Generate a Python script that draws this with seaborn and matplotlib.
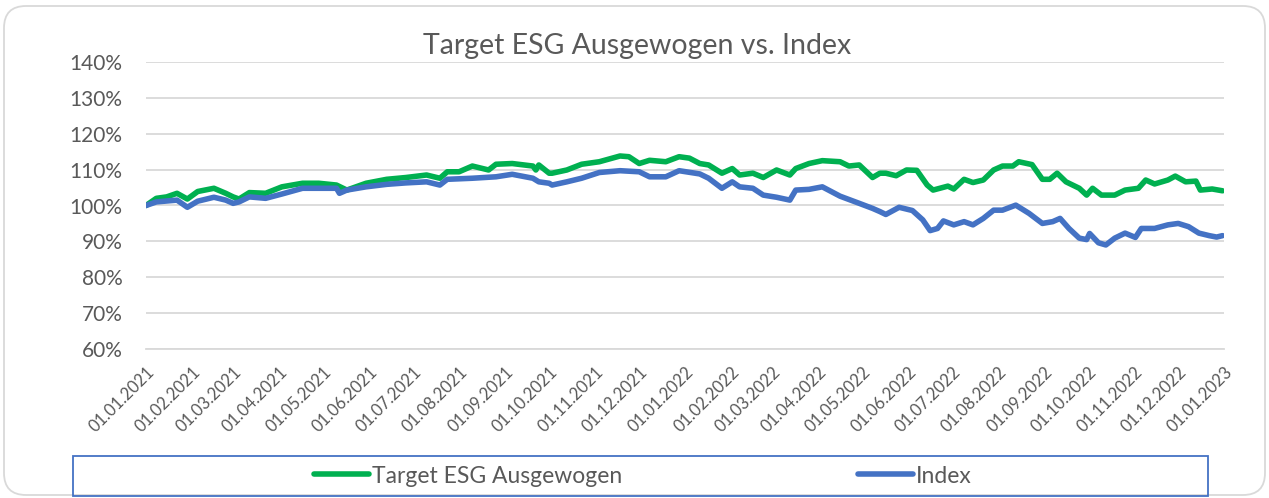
import matplotlib
matplotlib.use("Agg")
import matplotlib.pyplot as plt
import matplotlib.dates as mdates
import matplotlib.ticker as mticker
from matplotlib.patches import FancyBboxPatch, Rectangle
from matplotlib.lines import Line2D
from matplotlib.transforms import IdentityTransform
import seaborn as sns
import pandas as pd

# ---------------- data ----------------
fund_name = "Target ESG Ausgewogen"
index_name = "Index"
title = "Target ESG Ausgewogen vs. Index"

fund_dates = [
    "2021-01-01", "2021-01-08", "2021-01-15", "2021-01-22", "2021-01-29", "2021-02-05",
    "2021-02-16", "2021-02-24", "2021-03-01", "2021-03-05", "2021-03-12", "2021-03-23",
    "2021-04-03", "2021-04-17", "2021-04-28", "2021-05-10", "2021-05-17", "2021-05-30",
    "2021-06-13", "2021-06-26", "2021-07-10", "2021-07-19", "2021-07-24", "2021-08-01",
    "2021-08-10", "2021-08-21", "2021-08-26", "2021-09-06", "2021-09-20", "2021-09-22",
    "2021-09-24", "2021-10-01", "2021-10-03", "2021-10-13", "2021-10-23", "2021-11-04",
    "2021-11-18", "2021-11-24", "2021-12-01", "2021-12-08", "2021-12-19", "2021-12-28",
    "2022-01-04", "2022-01-11", "2022-01-17", "2022-01-26", "2022-02-02", "2022-02-07",
    "2022-02-16", "2022-02-23", "2022-03-04", "2022-03-13", "2022-03-17", "2022-03-26",
    "2022-04-04", "2022-04-16", "2022-04-22", "2022-04-29", "2022-05-08", "2022-05-13",
    "2022-05-17", "2022-05-24", "2022-05-31", "2022-06-07", "2022-06-14", "2022-06-18",
    "2022-06-28", "2022-07-02", "2022-07-09", "2022-07-15", "2022-07-22", "2022-07-29",
    "2022-08-04", "2022-08-11", "2022-08-15", "2022-08-24", "2022-08-31", "2022-09-05",
    "2022-09-10", "2022-09-16", "2022-09-25", "2022-09-30", "2022-10-04", "2022-10-10",
    "2022-10-19", "2022-10-26", "2022-11-04", "2022-11-09", "2022-11-15", "2022-11-24",
    "2022-11-29", "2022-12-06", "2022-12-13", "2022-12-16", "2022-12-24", "2022-12-31",
]
fund_values = [
    100.0, 102.0, 102.4, 103.4, 101.8, 103.9,
    104.8, 103.4, 102.4, 101.8, 103.6, 103.4,
    105.2, 106.2, 106.2, 105.7, 104.3, 106.2,
    107.3, 107.8, 108.5, 107.6, 109.4, 109.4,
    111.0, 109.9, 111.5, 111.7, 111.0, 109.9,
    111.3, 109.0, 109.0, 109.9, 111.5, 112.2,
    113.8, 113.6, 111.7, 112.6, 112.2, 113.6,
    113.2, 111.7, 111.3, 109.0, 110.3, 108.5,
    109.0, 107.8, 109.9, 108.5, 110.3, 111.7,
    112.5, 112.2, 111.0, 111.3, 107.8, 109.0,
    109.0, 108.3, 109.9, 109.8, 105.7, 104.3,
    105.4, 104.6, 107.3, 106.4, 107.1, 109.9,
    111.0, 111.0, 112.2, 111.4, 107.3, 107.3,
    109.0, 106.6, 104.8, 102.9, 104.8, 102.9,
    102.9, 104.3, 104.8, 107.1, 106.0, 107.1,
    108.2, 106.6, 106.8, 104.3, 104.6, 104.1,
]

index_dates = [
    "2021-01-01", "2021-01-08", "2021-01-22", "2021-01-29", "2021-02-05", "2021-02-16",
    "2021-02-24", "2021-03-01", "2021-03-05", "2021-03-12", "2021-03-23", "2021-04-03",
    "2021-04-17", "2021-04-28", "2021-05-10", "2021-05-12", "2021-05-17", "2021-05-30",
    "2021-06-13", "2021-06-26", "2021-07-10", "2021-07-19", "2021-07-24", "2021-08-10",
    "2021-08-26", "2021-09-06", "2021-09-20", "2021-09-24", "2021-10-01", "2021-10-03",
    "2021-10-13", "2021-10-23", "2021-11-04", "2021-11-18", "2021-12-01", "2021-12-08",
    "2021-12-19", "2021-12-28", "2022-01-11", "2022-01-17", "2022-01-26", "2022-02-02",
    "2022-02-07", "2022-02-16", "2022-02-23", "2022-03-04", "2022-03-13", "2022-03-17",
    "2022-03-26", "2022-04-04", "2022-04-16", "2022-04-29", "2022-05-08", "2022-05-13",
    "2022-05-17", "2022-05-26", "2022-06-04", "2022-06-11", "2022-06-16", "2022-06-21",
    "2022-06-25", "2022-07-02", "2022-07-09", "2022-07-15", "2022-07-22", "2022-07-29",
    "2022-08-04", "2022-08-13", "2022-08-22", "2022-08-31", "2022-09-07", "2022-09-12",
    "2022-09-18", "2022-09-25", "2022-09-30", "2022-10-02", "2022-10-08", "2022-10-13",
    "2022-10-19", "2022-10-26", "2022-11-02", "2022-11-06", "2022-11-15", "2022-11-24",
    "2022-12-01", "2022-12-08", "2022-12-15", "2022-12-22", "2022-12-27", "2022-12-31",
]
index_values = [
    100.0, 101.0, 101.5, 99.5, 101.2, 102.3,
    101.5, 100.6, 101.0, 102.4, 102.0, 103.2,
    104.8, 104.8, 104.8, 103.4, 104.3, 105.2,
    105.9, 106.3, 106.6, 105.7, 107.3, 107.6,
    108.0, 108.7, 107.6, 106.6, 106.2, 105.7,
    106.6, 107.6, 109.2, 109.7, 109.4, 108.0,
    108.0, 109.7, 108.8, 107.6, 104.8, 106.6,
    105.2, 104.8, 102.9, 102.3, 101.5, 104.3,
    104.5, 105.2, 102.6, 100.6, 99.2, 98.3,
    97.5, 99.5, 98.6, 96.0, 93.0, 93.6,
    95.7, 94.6, 95.5, 94.6, 96.4, 98.7,
    98.7, 100.1, 97.8, 95.0, 95.5, 96.4,
    93.6, 90.9, 90.5, 92.2, 89.6, 89.0,
    90.9, 92.3, 91.1, 93.6, 93.6, 94.6,
    95.0, 94.1, 92.3, 91.6, 91.2, 91.6,
]

y_ticks = [60, 70, 80, 90, 100, 110, 120, 130, 140]

# ---------------- styling ----------------
sns.set_style("white")
plt.rcParams['font.family'] = ['Lato', 'DejaVu Sans']
TEXT = "#595959"
GRID = "#D9D9D9"
GREEN = "#00B050"
BLUE = "#4472C4"
LW = 4.0

df = pd.concat([
    pd.DataFrame({"date": pd.to_datetime(fund_dates), "value": fund_values, "series": fund_name}),
    pd.DataFrame({"date": pd.to_datetime(index_dates), "value": index_values, "series": index_name}),
], ignore_index=True)

W, H = 1269, 498
fig = plt.figure(figsize=(W / 100, H / 100), dpi=100)
ax = fig.add_axes([146 / W, 1 - 349 / H, (1224 - 146) / W, (349 - 62) / H])

sns.lineplot(data=df, x="date", y="value", hue="series",
             palette={fund_name: GREEN, index_name: BLUE},
             hue_order=[fund_name, index_name],
             linewidth=LW, legend=False, ax=ax)
for ln in ax.get_lines():
    ln.set_solid_joinstyle("round")
    ln.set_solid_capstyle("round")

ax.set_xlim(pd.Timestamp("2021-01-01"), pd.Timestamp("2023-01-01"))
ax.set_ylim(60, 140)
ax.set_yticks(y_ticks)
ax.yaxis.set_major_formatter(mticker.FuncFormatter(lambda v, p: f"{v:.0f}%"))
ax.xaxis.set_major_locator(mdates.MonthLocator())
ax.xaxis.set_major_formatter(mdates.DateFormatter("%d.%m.%Y"))
ax.set_xlabel("")
ax.set_ylabel("")

ax.grid(axis="y", color=GRID, linewidth=1.3)
ax.grid(axis="x", visible=False)
ax.set_axisbelow(True)
for s in ["top", "right", "left"]:
    ax.spines[s].set_visible(False)
ax.spines["bottom"].set_color(GRID)
ax.spines["bottom"].set_linewidth(1.3)

ax.tick_params(axis="y", length=0, pad=17, labelsize=15, labelcolor=TEXT)
ax.tick_params(axis="x", length=5, width=1.3, color=GRID, direction="out",
               pad=6, labelsize=12, labelcolor=TEXT)
for lab in ax.get_xticklabels():
    lab.set_rotation(45)
    lab.set_ha("right")
    lab.set_va("top")
    lab.set_rotation_mode("anchor")

fig.text(637 / W, 1 - 46 / H, title, ha="center", va="center", fontsize=20.5, color=TEXT)

# outer rounded border
border = FancyBboxPatch((4, 3), W - 8, H - 9,
                        boxstyle="round,pad=0,rounding_size=22",
                        transform=IdentityTransform(), facecolor="none",
                        edgecolor=GRID, linewidth=1.3)
fig.patches.append(border)

# legend box
lbox = Rectangle((73, 2), 1208 - 73, 40, transform=IdentityTransform(),
                 facecolor="none", edgecolor=BLUE, linewidth=1.3)
fig.patches.append(lbox)

handles = [Line2D([], [], color=GREEN, linewidth=LW, solid_capstyle="round"),
           Line2D([], [], color=BLUE, linewidth=LW, solid_capstyle="round")]
fig.legend(handles, [fund_name, index_name], loc="center",
           bbox_to_anchor=(643 / W, 1 - 476 / H), ncol=2, frameon=False,
           fontsize=16.5, labelcolor=TEXT, handlelength=2.4, handletextpad=0.12,
           columnspacing=10.3)

fig.savefig("out.png", dpi=100)
